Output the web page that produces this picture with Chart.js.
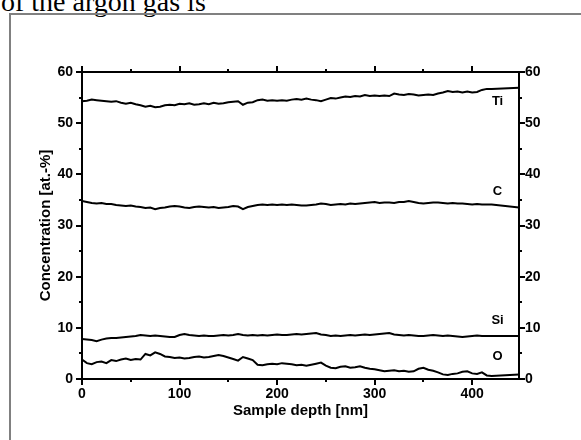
<!DOCTYPE html>
<html>
<head>
<meta charset="utf-8">
<script src="https://cdn.jsdelivr.net/npm/chart.js@4/dist/chart.umd.min.js"></script>
<style>
  html, body { margin: 0; padding: 0; background: #fff; overflow: hidden; }
  body { width: 581px; height: 440px; position: relative; }
  #caption {
    position: absolute; left: 1px; top: -12px; margin: 0;
    font-family: "Liberation Serif", "Times New Roman", serif;
    font-size: 28px; line-height: 28px; color: #000; white-space: nowrap;
  }
  #frame {
    position: absolute; left: 9px; top: 13px; width: 700px; height: 600px;
    border-left: 2px solid #808080; border-top: 2px solid #808080;
  }
  #wrap { position: absolute; left: 0; top: 0; width: 581px; height: 440px; }
</style>
</head>
<body>
<div id="caption">of the argon gas is</div>
<div id="frame"></div>
<div id="wrap"><canvas id="chart" width="581" height="440"></canvas></div>
<script>
// Sputter depth (nm)
const depth = [
  0, 5, 10, 15, 20, 25, 30, 35, 40, 45, 50, 55, 60, 65, 70, 75, 80, 85, 90, 95,
  100, 105, 110, 115, 120, 125, 130, 135, 140, 145, 150, 155, 160, 165, 170, 175, 180, 185, 190, 195,
  200, 205, 210, 215, 220, 225, 230, 235, 240, 245, 250, 255, 260, 265, 270, 275, 280, 285, 290, 295,
  300, 305, 310, 315, 320, 325, 330, 335, 340, 345, 350, 355, 360, 365, 370, 375, 380, 385, 390, 395,
  400, 405, 410, 415, 420, 448
];

// Concentrations (at.-%)
const ti = [
  54.3, 54.4, 54.6, 54.5, 54.4, 54.3, 54.2, 54.3, 54.0, 53.8, 54.0, 53.7, 53.5, 53.2, 53.4, 53.1, 53.2, 53.5, 53.6, 53.5,
  53.8, 53.7, 53.9, 53.6, 53.7, 53.9, 53.7, 54.0, 53.8, 53.9, 54.1, 54.2, 54.3, 53.6, 54.0, 54.1, 54.5, 54.6, 54.4, 54.5,
  54.4, 54.5, 54.4, 54.6, 54.7, 54.6, 54.8, 54.6, 54.5, 54.3, 54.6, 54.9, 54.8, 55.0, 55.2, 55.1, 55.3, 55.2, 55.5, 55.3,
  55.4, 55.3, 55.4, 55.3, 55.8, 55.6, 55.5, 55.7, 55.6, 55.4, 55.5, 55.6, 55.5, 55.8, 56.0, 56.3, 56.1, 56.2, 56.0, 56.2,
  56.0, 56.1, 56.5, 56.7, 56.7, 56.9
];
const c = [
  34.8, 34.6, 34.4, 34.3, 34.4, 34.2, 34.2, 34.0, 33.9, 33.8, 33.9, 33.7, 33.6, 33.4, 33.5, 33.2, 33.4, 33.5, 33.7, 33.8,
  33.7, 33.5, 33.4, 33.6, 33.7, 33.6, 33.5, 33.6, 33.4, 33.5, 33.6, 33.8, 33.7, 33.2, 33.6, 33.8, 34.0, 34.1, 34.0, 34.1,
  34.0, 34.1, 34.0, 34.1, 34.0, 33.9, 33.9, 34.0, 34.1, 34.3, 34.2, 34.0, 34.1, 34.2, 34.1, 34.3, 34.2, 34.3, 34.4, 34.5,
  34.6, 34.4, 34.5, 34.5, 34.4, 34.6, 34.6, 34.8, 34.6, 34.4, 34.3, 34.4, 34.5, 34.5, 34.4, 34.3, 34.4, 34.3, 34.3, 34.2,
  34.1, 34.2, 34.1, 34.1, 34.1, 33.5
];
const si = [
  7.8, 7.7, 7.6, 7.4, 7.7, 7.9, 8.0, 8.0, 8.1, 8.2, 8.3, 8.4, 8.6, 8.5, 8.4, 8.5, 8.4, 8.3, 8.2, 8.2,
  8.6, 8.8, 8.6, 8.5, 8.4, 8.5, 8.4, 8.4, 8.5, 8.6, 8.5, 8.6, 8.8, 8.6, 8.5, 8.6, 8.5, 8.6, 8.5, 8.6,
  8.7, 8.6, 8.6, 8.7, 8.8, 8.7, 8.8, 8.9, 9.0, 8.7, 8.6, 8.4, 8.5, 8.4, 8.5, 8.6, 8.5, 8.6, 8.7, 8.6,
  8.7, 8.8, 8.9, 9.0, 8.7, 8.6, 8.5, 8.6, 8.5, 8.4, 8.4, 8.5, 8.6, 8.5, 8.4, 8.5, 8.4, 8.3, 8.2, 8.3,
  8.4, 8.5, 8.4, 8.4, 8.4, 8.4
];
const o = [
  3.8, 3.1, 2.9, 3.3, 3.4, 3.1, 3.7, 3.5, 3.8, 4.0, 3.7, 3.9, 3.8, 4.9, 4.6, 5.2, 4.9, 4.4, 4.3, 4.1,
  4.2, 4.0, 4.1, 4.3, 4.4, 4.2, 4.3, 4.5, 4.7, 4.5, 4.2, 3.9, 3.6, 4.3, 4.0, 3.7, 2.8, 2.7, 2.9, 3.0,
  2.9, 3.1, 3.0, 2.9, 2.7, 2.8, 2.6, 2.8, 3.0, 3.2, 2.6, 2.2, 2.1, 2.4, 2.5, 2.2, 2.3, 2.5, 2.2, 2.0,
  1.9, 1.7, 1.5, 1.6, 1.7, 1.5, 1.6, 1.4, 1.5, 2.0, 2.2, 1.8, 1.6, 1.3, 0.9, 0.8, 1.0, 1.1, 1.4, 1.5,
  1.1, 1.0, 1.3, 0.7, 0.6, 0.9
];

// Element names written next to each profile
const elements = ['Ti', 'C', 'Si', 'O'];

// Axis ticks
const xMajor = [0, 100, 200, 300, 400];
const xMinor = [50, 150, 250, 350];
const yMajor = [0, 10, 20, 30, 40, 50, 60];
const yMinor = [5, 15, 25, 35, 45, 55];

// Where each element name sits (depth nm, at.-%)
const labelAt = [
  { x: 426, y: 54.3 },
  { x: 426, y: 36.7 },
  { x: 426, y: 11.4 },
  { x: 426, y: 4.5 }
];

const X_MAX = 448;
const TICK_FONT = { family: 'Liberation Sans, Arial, sans-serif', size: 14, weight: 'bold' };
const TITLE_FONT = { family: 'Liberation Sans, Arial, sans-serif', size: 15, weight: 'bold' };

function points(vals) {
  return depth.map((d, i) => ({ x: d, y: vals[i] }));
}

function fixTicks(values) {
  return function (scale) { scale.ticks = values.map(v => ({ value: v })); };
}

// Frame around the plot with outward major/minor tick marks on all four sides
const frameAxes = {
  id: 'frameAxes',
  afterDatasetsDraw(chart) {
    const { ctx, chartArea: a, scales } = chart;
    const xs = scales.x, ys = scales.y;
    ctx.save();
    ctx.strokeStyle = '#000';
    ctx.lineWidth = 2;
    ctx.lineCap = 'butt';
    ctx.strokeRect(a.left, a.top, a.right - a.left, a.bottom - a.top);
    ctx.beginPath();
    const major = 6, minor = 3;
    xMajor.concat(xMinor).forEach(v => {
      const len = xMajor.includes(v) ? major : minor;
      const px = Math.round(xs.getPixelForValue(v));
      ctx.moveTo(px, a.bottom); ctx.lineTo(px, a.bottom + len);
      ctx.moveTo(px, a.top); ctx.lineTo(px, a.top - len);
    });
    yMajor.concat(yMinor).forEach(v => {
      const len = yMajor.includes(v) ? major : minor;
      const py = Math.round(ys.getPixelForValue(v));
      ctx.moveTo(a.left, py); ctx.lineTo(a.left - len, py);
      ctx.moveTo(a.right, py); ctx.lineTo(a.right + len, py);
    });
    ctx.stroke();

    ctx.fillStyle = '#000';
    ctx.font = 'bold 13px "Liberation Sans", Arial, sans-serif';
    ctx.textAlign = 'center';
    ctx.textBaseline = 'middle';
    elements.forEach((name, i) => {
      ctx.fillText(name, xs.getPixelForValue(labelAt[i].x), ys.getPixelForValue(labelAt[i].y));
    });
    ctx.restore();
  }
};

const lineStyle = { borderColor: '#000', borderWidth: 2, pointRadius: 0, tension: 0, fill: false };

new Chart(document.getElementById('chart'), {
  type: 'line',
  data: {
    datasets: [
      Object.assign({ label: elements[0], data: points(ti) }, lineStyle),
      Object.assign({ label: elements[1], data: points(c) }, lineStyle),
      Object.assign({ label: elements[2], data: points(si) }, lineStyle),
      Object.assign({ label: elements[3], data: points(o) }, lineStyle)
    ]
  },
  options: {
    responsive: false,
    animation: false,
    layout: { padding: 0 },
    plugins: { legend: { display: false }, tooltip: { enabled: false } },
    scales: {
      x: {
        type: 'linear', position: 'bottom', min: 0, max: X_MAX,
        afterBuildTicks: fixTicks(xMajor),
        afterFit(s) { s.height = 61; },
        grid: { display: false, drawTicks: false },
        border: { display: false },
        ticks: { color: '#000', font: TICK_FONT, padding: 7, maxRotation: 0 },
        title: { display: true, text: 'Sample depth [nm]', color: '#000', font: TITLE_FONT, padding: { top: 0, bottom: 20 } }
      },
      xTop: {
        type: 'linear', position: 'top', min: 0, max: X_MAX,
        afterFit(s) { s.height = 72; },
        grid: { display: false, drawTicks: false },
        border: { display: false },
        ticks: { display: false }
      },
      y: {
        type: 'linear', position: 'left', min: 0, max: 60,
        afterBuildTicks: fixTicks(yMajor),
        afterFit(s) { s.width = 82; },
        grid: { display: false, drawTicks: false },
        border: { display: false },
        ticks: { color: '#000', font: TICK_FONT, padding: 9 },
        title: { display: true, text: 'Concentration [at.-%]', color: '#000', font: TITLE_FONT, padding: { top: 37, bottom: 0 } }
      },
      yRight: {
        type: 'linear', position: 'right', min: 0, max: 60,
        afterBuildTicks: fixTicks(yMajor),
        afterFit(s) { s.width = 62; },
        grid: { display: false, drawTicks: false },
        border: { display: false },
        ticks: { color: '#000', font: TICK_FONT, padding: 6 }
      }
    }
  },
  plugins: [frameAxes]
});
</script>
</body>
</html>
